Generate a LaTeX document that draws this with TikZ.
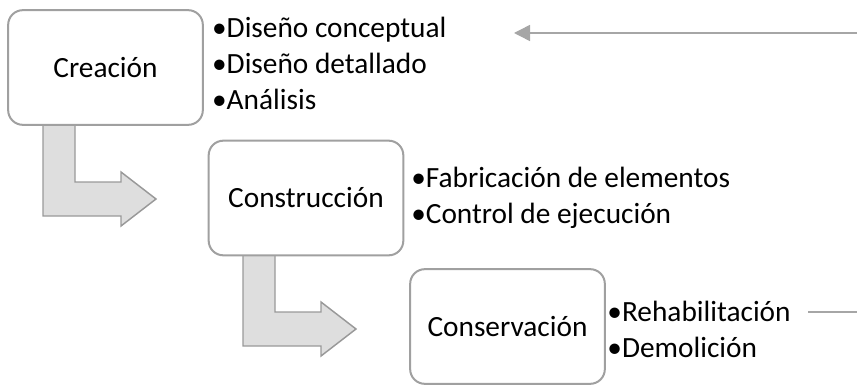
\documentclass[tikz,border=0pt]{standalone}
\usepackage{fontspec}
\setmainfont{Carlito}
\usetikzlibrary{positioning,arrows.meta}
\definecolor{boxline}{HTML}{A0A0A0}
\definecolor{arrowfill}{HTML}{DEDEDE}
\definecolor{arrowline}{HTML}{999999}
\definecolor{linkgray}{HTML}{A6A6A6}
\tikzset{
  stage/.style={draw=boxline, line width=1.5pt, fill=white, rounded corners=11pt,
    minimum width=146pt, minimum height=86pt, inner sep=0pt, font=\fontsize{22}{27}\selectfont},
  tasks/.style={anchor=west, align=left, inner sep=0pt, font=\fontsize{22}{27}\selectfont},
  bendarrow/.pic={
    \draw[draw=arrowline, line width=1.1pt, fill=arrowfill]
      (35,0) -- (67,0) -- (67,57) -- (113,57) -- (113,47) -- (148,74)
      -- (113,101) -- (113,91) -- (35,91) -- cycle;
  }
}
\begin{document}
\begin{tikzpicture}[x=0.75pt, y=-0.75pt]
  \useasboundingbox (0,0) rectangle (857,385);
  % flow of stages
  \pic at (8,125) {bendarrow};
  \pic at (208,255) {bendarrow};
  \node[stage] (crea) at (105.5,67.5) {Creación};
  \node[stage] (cons) at (306,198) {Construcción};
  \node[stage] (conv) at (507.5,326.5) {Conservación};
  % task lists
  \node[tasks, right=6pt of crea.east, yshift=3pt] (creatasks)
    {•Diseño conceptual\\•Diseño detallado\\•Análisis};
  \node[tasks, right=5pt of cons.east] (constasks)
    {•Fabricación de elementos\\•Control de ejecución};
  \node[tasks, right=1pt of conv.east, yshift=-2.5pt] (convtasks)
    {•Rehabilitación\\•Demolición};
  % side connectors
  \coordinate (feedin) at (857,33);
  \coordinate (feedout) at (514,33);
  \coordinate (backin) at (808,312);
  \coordinate (backout) at (857,312);
  \draw[linkgray, line width=1.1pt, -{Triangle[length=12pt,width=12pt]}] (feedin) -- (feedout);
  \draw[linkgray, line width=0.8pt] (backin) -- (backout);
\end{tikzpicture}
\end{document}
